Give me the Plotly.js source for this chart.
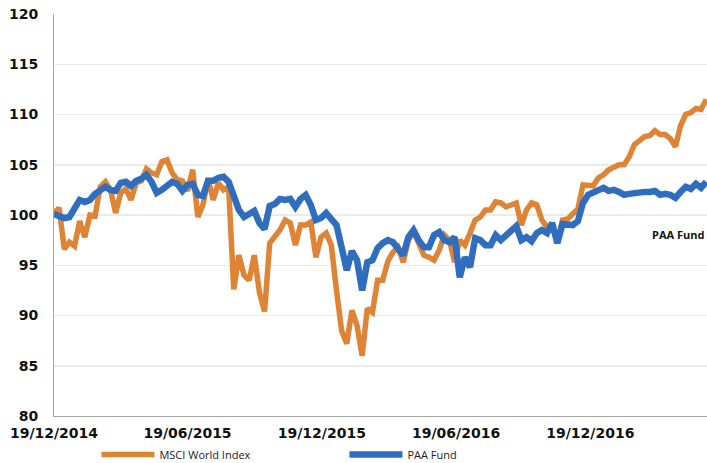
<!DOCTYPE html>
<html>
<head>
<meta charset="utf-8">
<script src="https://cdn.plot.ly/plotly-3.0.1.min.js"></script>
<style>
html,body{margin:0;padding:0;background:#fff;}
#chart{width:707px;height:463px;}
</style>
</head>
<body>
<div id="chart"></div>
<script>
const dates = [
"2014-12-19","2014-12-26",
"2015-01-02","2015-01-09","2015-01-16","2015-01-23","2015-01-30",
"2015-02-06","2015-02-13","2015-02-20","2015-02-27",
"2015-03-06","2015-03-13","2015-03-20","2015-03-27",
"2015-04-03","2015-04-10","2015-04-17","2015-04-24",
"2015-05-01","2015-05-08","2015-05-15","2015-05-22","2015-05-29",
"2015-06-05","2015-06-12","2015-06-19","2015-06-26",
"2015-07-03","2015-07-10","2015-07-17","2015-07-24","2015-07-31",
"2015-08-07","2015-08-14","2015-08-21","2015-08-28",
"2015-09-04","2015-09-11","2015-09-18","2015-09-25",
"2015-10-02","2015-10-09","2015-10-16","2015-10-23","2015-10-30",
"2015-11-06","2015-11-13","2015-11-20","2015-11-27",
"2015-12-04","2015-12-11","2015-12-18","2015-12-25",
"2016-01-01","2016-01-08","2016-01-15","2016-01-22","2016-01-29",
"2016-02-05","2016-02-12","2016-02-19","2016-02-26",
"2016-03-04","2016-03-11","2016-03-18","2016-03-25",
"2016-04-01","2016-04-08","2016-04-15","2016-04-22","2016-04-29",
"2016-05-06","2016-05-13","2016-05-20","2016-05-27",
"2016-06-03","2016-06-10","2016-06-17","2016-06-24",
"2016-07-01","2016-07-08","2016-07-15","2016-07-22","2016-07-29",
"2016-08-05","2016-08-12","2016-08-19","2016-08-26",
"2016-09-02","2016-09-09","2016-09-16","2016-09-23","2016-09-30",
"2016-10-07","2016-10-14","2016-10-21","2016-10-28",
"2016-11-04","2016-11-11","2016-11-18","2016-11-25",
"2016-12-02","2016-12-09","2016-12-16","2016-12-23","2016-12-30",
"2017-01-06","2017-01-13","2017-01-20","2017-01-27",
"2017-02-03","2017-02-10","2017-02-17","2017-02-24",
"2017-03-03","2017-03-10","2017-03-17","2017-03-24","2017-03-31",
"2017-04-07","2017-04-14","2017-04-21","2017-04-28",
"2017-05-05","2017-05-12","2017-05-19","2017-05-26"
];

const msciWorld = [
100.2,100.7,96.6,97.3,96.9,99.4,97.8,100.0,99.9,102.8,
103.3,102.5,100.2,102.2,102.6,101.5,103.2,103.4,104.6,104.2,
104.0,105.3,105.5,104.2,103.5,103.4,102.4,104.5,99.8,101.0,
103.6,101.5,103.2,102.5,102.8,92.6,96.0,94.0,93.5,96.0,
92.3,90.4,97.2,97.9,98.5,99.5,99.2,97.0,99.0,99.0,
99.3,95.8,97.8,98.2,97.0,92.5,88.5,87.2,90.5,89.0,
86.0,90.7,90.3,93.5,93.5,95.4,96.3,96.8,95.3,97.5,
98.3,97.2,96.0,95.8,95.5,96.5,98.0,97.5,95.3,97.5,
97.0,98.2,99.5,99.8,100.5,100.5,101.3,101.2,100.8,101.0,
101.2,99.0,100.5,101.2,101.0,99.5,98.8,99.0,97.2,99.5,
99.6,100.1,100.6,103.0,103.0,102.9,103.7,104.0,104.5,104.8,
105.0,105.0,105.8,107.0,107.4,107.8,107.9,108.4,108.0,108.0,
107.6,106.8,108.9,110.0,110.2,110.6,110.5,111.5
];

const paaFund = [
100.1,99.9,99.7,99.8,100.7,101.5,101.3,101.5,102.1,102.5,
102.8,102.5,102.4,103.2,103.3,102.9,103.4,103.6,104.0,103.3,
102.2,102.5,102.9,103.3,103.1,102.4,103.0,103.1,102.0,101.9,
103.4,103.4,103.7,103.8,103.3,102.0,100.5,99.8,100.2,100.4,
99.2,98.6,100.9,101.1,101.6,101.5,101.6,100.8,101.6,102.0,
101.0,99.5,99.7,100.2,99.6,99.0,96.8,94.5,96.4,95.5,
92.5,95.3,95.5,96.7,97.2,97.5,97.3,96.6,96.0,97.8,
98.5,97.5,96.8,96.8,98.0,98.3,97.5,97.3,97.8,93.8,
95.8,94.8,97.7,97.5,97.0,97.0,98.0,97.5,98.0,98.4,
98.9,97.5,97.8,97.4,98.2,98.5,98.2,99.2,97.2,99.1,
99.1,99.0,99.4,101.2,102.0,102.2,102.4,102.7,102.4,102.5,
102.3,102.0,102.1,102.2,102.2,102.3,102.3,102.4,102.0,102.1,
102.0,101.7,102.3,102.8,102.6,103.1,102.7,103.3
];

const seriesNames = ["MSCI World Index", "PAA Fund"];
const tickDates = ["2014-12-19","2015-06-19","2015-12-19","2016-06-19","2016-12-19"];
const tickLabels = ["19/12/2014","19/06/2015","19/12/2015","19/06/2016","19/12/2016"];
const yTicks = [80,85,90,95,100,105,110,115,120];
const noteText = "PAA Fund";

const traces = [
  {x: dates, y: msciWorld, name: seriesNames[0], type: "scatter", mode: "lines",
   line: {color: "#DF8335", width: 5.5}},
  {x: dates, y: paaFund, name: seriesNames[1], type: "scatter", mode: "lines",
   line: {color: "#2F6EBE", width: 6.5}}
];

const layout = {
  width: 707, height: 463,
  margin: {l: 54, r: 0, t: 14, b: 47, pad: 0, autoexpand: false},
  paper_bgcolor: "#fff", plot_bgcolor: "#fff",
  showlegend: true,
  legend: {orientation: "h", x: 0.065, xanchor: "left", y: -0.06, yanchor: "top",
    font: {family: "Open Sans", size: 11, color: "#222"},
    entrywidth: 180, entrywidthmode: "pixels", itemwidth: 53,
    bgcolor: "rgba(0,0,0,0)"},
  xaxis: {type: "date", range: ["2014-12-19", "2017-05-27"],
    tickmode: "array", tickvals: tickDates, ticktext: tickLabels,
    showgrid: false, zeroline: false, showline: true, linecolor: "#a6a6a6", linewidth: 1,
    ticks: "", ticklabelstandoff: 4,
    tickfont: {family: "DejaVu Sans", size: 14, color: "#111", weight: "bold"}},
  yaxis: {range: [80, 120], tickmode: "array", tickvals: yTicks,
    showgrid: true, gridcolor: "#ebebeb", gridwidth: 1.5, zeroline: false,
    showline: true, linecolor: "#a6a6a6", linewidth: 1,
    ticks: "", ticklabelstandoff: 12,
    tickfont: {family: "DejaVu Sans", size: 14, color: "#111", weight: "bold"}},
  annotations: [{text: noteText, xref: "paper", yref: "y", x: 0.912, y: 98.1,
    xanchor: "left", yanchor: "middle", showarrow: false,
    font: {family: "Open Sans", size: 11, color: "#111", weight: "bold"}}]
};

Plotly.newPlot("chart", traces, layout, {displayModeBar: false, staticPlot: true});
</script>
</body>
</html>
